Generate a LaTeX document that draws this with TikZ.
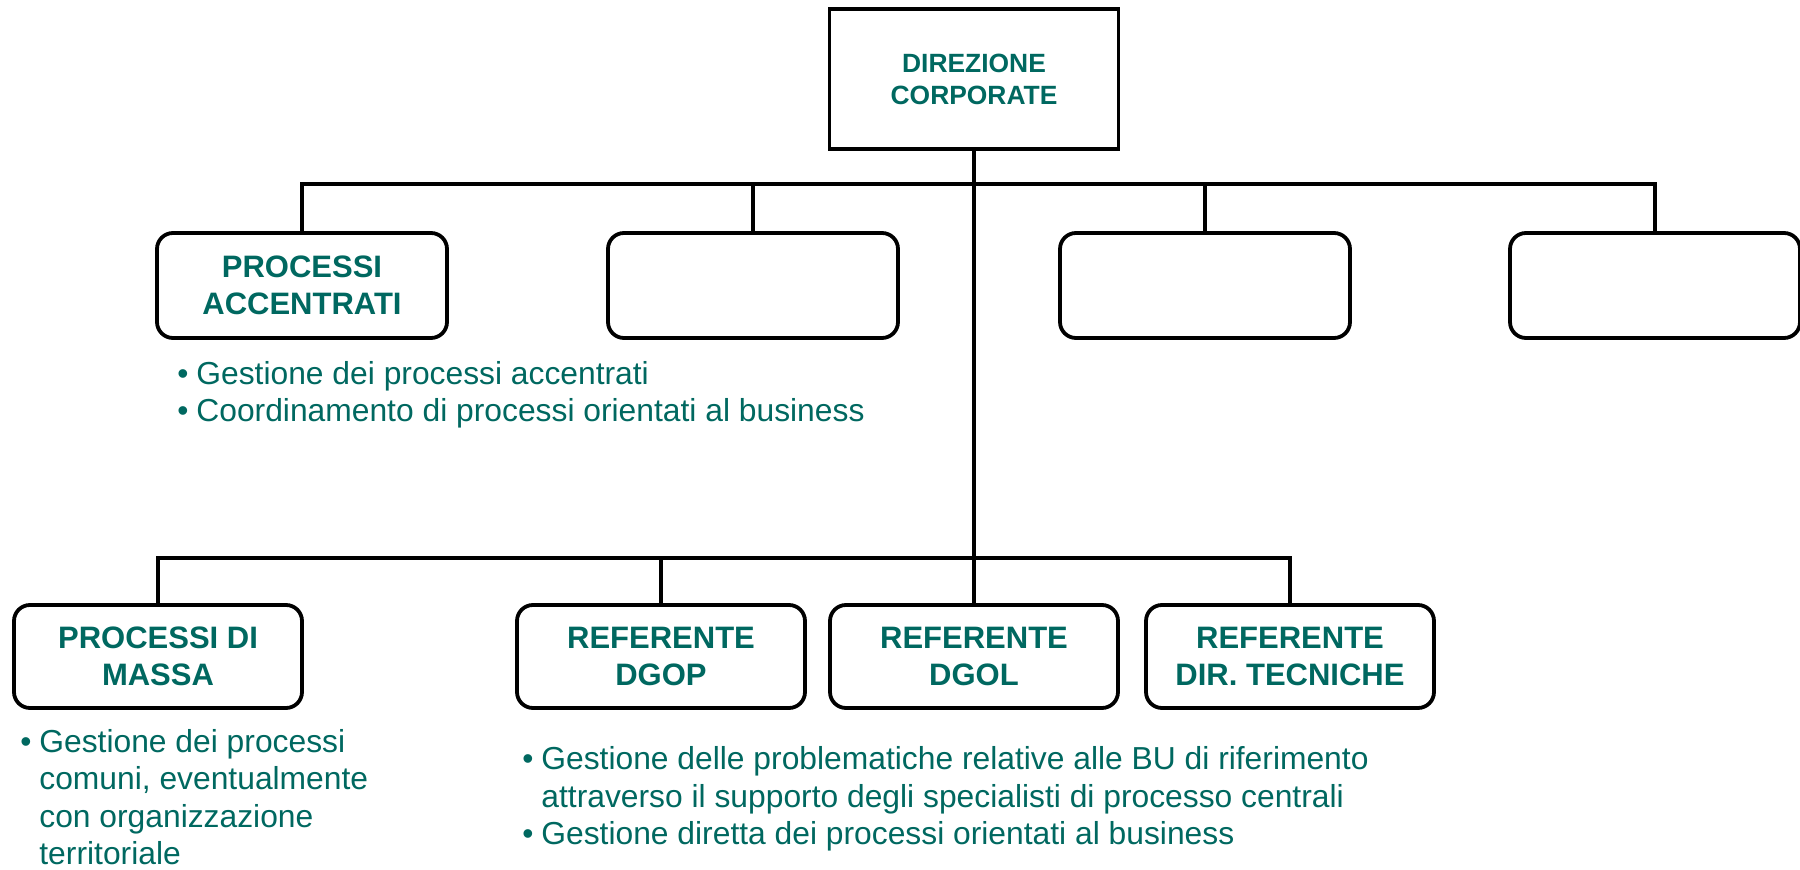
\documentclass[tikz,border=0pt]{standalone}
\usepackage{fontspec}
\setmainfont{Liberation Sans}
\definecolor{verdeacqua}{RGB}{0,104,96}
\newcommand{\voce}{\makebox[9.5pt][l]{\textbullet}}
\newcommand{\rientro}{\hspace*{9.5pt}}

\begin{document}
\begin{tikzpicture}[x=0.5pt,y=-0.5pt,
        ufficio/.style={draw,line width=1.9pt,rounded corners=8pt,minimum width=145pt,minimum height=52.5pt,align=center,text=verdeacqua,font=\bfseries\fontsize{15.5}{18.5}\selectfont},
        compiti/.style={anchor=base west,inner sep=0pt,align=left,text=verdeacqua,font=\fontsize{15.9}{18.75}\selectfont},
        linea/.style={line width=1.8pt}]
        \useasboundingbox (0,0) rectangle (1800,870);

        % Direzione
        \node[draw,line width=1.9pt,minimum width=144.5pt,minimum height=70pt,align=center,text=verdeacqua,font=\bfseries\fontsize{13.2}{16}\selectfont] (direzione) at (974,79) {DIREZIONE\\CORPORATE};

        % Primo livello
        \node[ufficio] (accentrati) at (302,285.5) {PROCESSI\\ACCENTRATI};
        \node[ufficio] (vuoto1) at (753,285.5) {};
        \node[ufficio] (vuoto2) at (1205,285.5) {};
        \node[ufficio] (vuoto3) at (1655,285.5) {};

        % Secondo livello
        \node[ufficio,minimum width=144pt,minimum height=51.5pt] (massa) at (158,656.5) {PROCESSI DI\\MASSA};
        \node[ufficio,minimum width=144pt,minimum height=51.5pt] (dgop) at (661,656.5) {REFERENTE\\DGOP};
        \node[ufficio,minimum width=144pt,minimum height=51.5pt] (dgol) at (974,656.5) {REFERENTE\\DGOL};
        \node[ufficio,minimum width=144pt,minimum height=51.5pt] (tecniche) at (1290,656.5) {REFERENTE\\DIR. TECNICHE};

        % Collegamenti
        \coordinate (bus1) at (974,184);
        \coordinate (bus2) at (974,558);
        \draw[linea] (direzione) -- (dgol);
        \draw[linea] (accentrati.north) |- (bus1) -| (vuoto3.north);
        \draw[linea] (vuoto1.north) -- (vuoto1.north |- bus1);
        \draw[linea] (vuoto2.north) -- (vuoto2.north |- bus1);
        \draw[linea] (massa.north) |- (bus2) -| (tecniche.north);
        \draw[linea] (dgop.north) -- (dgop.north |- bus2);

        % Compiti (ancorati all'ultima riga)
        \node[compiti] (note1) at (177,422) {\voce Gestione dei processi accentrati\\\voce Coordinamento di processi orientati al business};
        \node[compiti] (note2) at (20,865) {\voce Gestione dei processi\\\rientro comuni, eventualmente\\\rientro con organizzazione\\\rientro territoriale};
        \node[compiti] (note3) at (522,845) {\voce Gestione delle problematiche relative alle BU di riferimento\\\rientro attraverso il supporto degli specialisti di processo centrali\\\voce Gestione diretta dei processi orientati al business};
    \end{tikzpicture}
\end{document}
